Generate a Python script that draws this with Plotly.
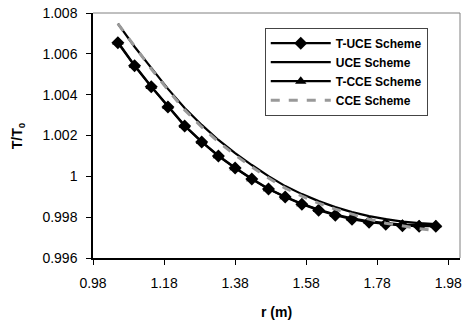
import plotly.graph_objects as go

r = [1.050, 1.097, 1.144, 1.191, 1.238, 1.286, 1.333, 1.380, 1.427, 1.474,
     1.521, 1.568, 1.615, 1.662, 1.709, 1.757, 1.804, 1.851, 1.898, 1.945]

t_uce = [1.006542, 1.005413, 1.004382, 1.003400, 1.002467, 1.001682, 1.000995,
         1.000406, 0.999866, 0.999375, 0.998982, 0.998638, 0.998344, 0.998098,
         0.997902, 0.997754, 0.997656, 0.997582, 0.997558, 0.997558]
uce = [1.007475, 1.006346, 1.005315, 1.004284, 1.003351, 1.002517, 1.001780,
       1.001142, 1.000553, 1.000013, 0.999522, 0.999129, 0.998786, 0.998491,
       0.998246, 0.998049, 0.997902, 0.997779, 0.997705, 0.997656]
t_cce = [1.006580, 1.005440, 1.004400, 1.003420, 1.002490, 1.001700, 1.001010,
         1.000420, 0.999880, 0.999390, 0.999000, 0.998660, 0.998370, 0.998130,
         0.997940, 0.997790, 0.997700, 0.997640, 0.997620, 0.997620]
cce = [1.007475, 1.006346, 1.005266, 1.004235, 1.003253, 1.002419, 1.001682,
       1.001044, 1.000455, 0.999915, 0.999424, 0.999031, 0.998687, 0.998393,
       0.998148, 0.997902, 0.997705, 0.997558, 0.997435, 0.997337]

x_ticks = [0.98, 1.18, 1.38, 1.58, 1.78, 1.98]
x_tick_labels = ["0.98", "1.18", "1.38", "1.58", "1.78", "1.98"]
y_ticks = [0.996, 0.998, 1.0, 1.002, 1.004, 1.006, 1.008]
y_tick_labels = ["0.996", "0.998", "1", "1.002", "1.004", "1.006", "1.008"]

FONT = "Arial, Liberation Sans, sans-serif"

fig = go.Figure()
fig.add_trace(go.Scatter(x=r, y=t_uce, name="T-UCE Scheme", mode="lines+markers",
                         line=dict(color="black", width=2.2),
                         marker=dict(symbol="diamond", size=10, color="black")))
fig.add_trace(go.Scatter(x=r, y=uce, name="UCE Scheme", mode="lines",
                         line=dict(color="black", width=2.2)))
fig.add_trace(go.Scatter(x=r, y=t_cce, name="T-CCE Scheme", mode="lines+markers",
                         line=dict(color="black", width=2.2),
                         marker=dict(symbol="triangle-up", size=10, color="black")))
fig.add_trace(go.Scatter(x=r, y=cce, name="CCE Scheme", mode="lines",
                         line=dict(color="#999999", width=3, dash="dash")))

fig.update_layout(
    width=465, height=323,
    margin=dict(l=93, r=3, t=13, b=65),
    paper_bgcolor="white", plot_bgcolor="white",
    font=dict(family=FONT, size=13, color="black"),
    showlegend=True,
    legend=dict(x=0.468, y=0.94, xanchor="left", yanchor="top",
                bgcolor="white", bordercolor="#444444", borderwidth=1,
                font=dict(family=FONT, size=12, color="black", weight="bold"),
                tracegroupgap=0, itemwidth=60),
    xaxis=dict(range=[0.98, 2.013], tickvals=x_ticks, ticktext=x_tick_labels,
               showgrid=False, zeroline=False, showline=True, linecolor="black",
               linewidth=1.5, ticks="outside", ticklen=5, tickcolor="black",
               ticklabelstandoff=6, tickfont=dict(size=14)),
    yaxis=dict(range=[0.996, 1.008], tickvals=y_ticks, ticktext=y_tick_labels,
               showgrid=False, zeroline=False, showline=True, linecolor="black",
               linewidth=1.5, ticks="outside", ticklen=5, tickcolor="black",
               ticklabelstandoff=6, tickfont=dict(size=14)),
    shapes=[
        dict(type="line", xref="paper", yref="paper", x0=0, x1=1, y0=1, y1=1,
             line=dict(color="#808080", width=1)),
        dict(type="line", xref="paper", yref="paper", x0=1, x1=1, y0=0, y1=1,
             line=dict(color="#808080", width=1)),
    ],
    annotations=[
        dict(text="<b>r (m)</b>", xref="paper", yref="paper", x=0.5, y=-0.22,
             xanchor="center", yanchor="middle", showarrow=False,
             font=dict(family=FONT, size=14)),
        dict(text="<b>T/T<sub>0</sub></b>", xref="paper", yref="paper", x=-0.205, y=0.5,
             xanchor="center", yanchor="middle", showarrow=False, textangle=-90,
             font=dict(family=FONT, size=14)),
    ],
)

fig.write_html("out.html")
